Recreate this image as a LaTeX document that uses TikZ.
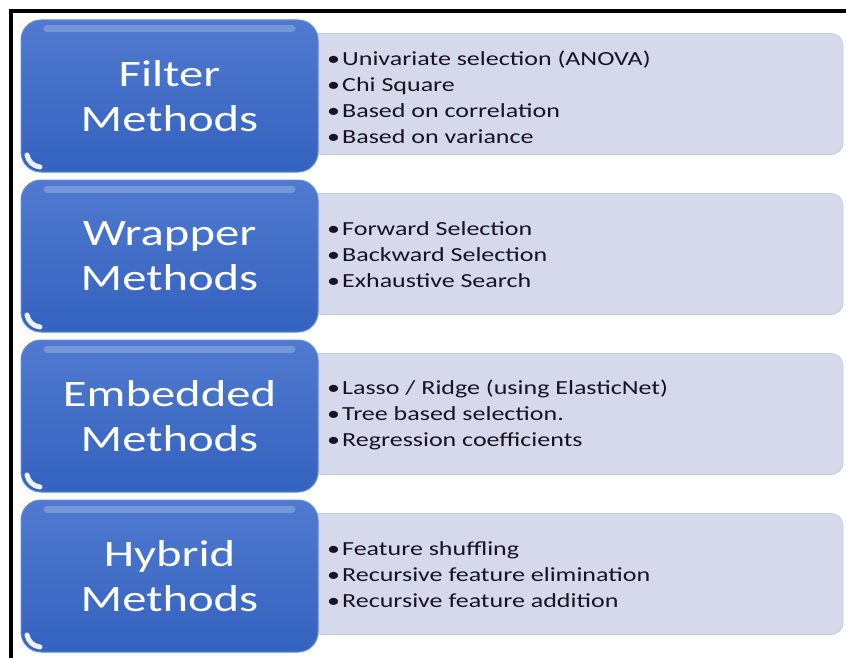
\documentclass[tikz,border=0pt]{standalone}
\usepackage{fontspec}
\setmainfont{Carlito}
\newfontfamily\wideface[FakeStretch=1.3]{Carlito}

\definecolor{bluetop}{RGB}{80,122,207}
\definecolor{bluebot}{RGB}{52,98,192}
\definecolor{blueedge}{RGB}{96,138,215}
\definecolor{listfill}{RGB}{213,217,235}
\definecolor{listedge}{RGB}{196,202,228}
\definecolor{listtext}{RGB}{24,18,34}

\newcommand{\itm}{\makebox[15pt][l]{\textbullet}}

\tikzset{
  method/.style={rounded corners=20pt, minimum width=297pt, minimum height=152pt,
    top color=bluetop, bottom color=bluebot, draw=blueedge, line width=1pt,
    text=white, align=center, font=\wideface\fontsize{37.4}{45}\selectfont,
    path picture={
      \draw[white, opacity=.22, line width=7pt, line cap=round]
        ([xshift=26pt,yshift=-9pt]path picture bounding box.north west) --
        ([xshift=-26pt,yshift=-9pt]path picture bounding box.north east);
      \draw[white, opacity=.9, line width=5pt, line cap=round]
        ([xshift=6pt,yshift=17pt]path picture bounding box.south west) to[bend right=35]
        ([xshift=19pt,yshift=5pt]path picture bounding box.south west);
    }},
  listbox/.style={rounded corners=12pt, minimum width=543pt, minimum height=121pt,
    fill=listfill, draw=listedge, line width=.8pt},
  listtext/.style={anchor=west, inner sep=0pt, align=left, text=listtext,
    font=\wideface\fontsize{20}{26}\selectfont}
}

\begin{document}
\begin{tikzpicture}[x=1pt, y=-1pt]
  \useasboundingbox (0,0) rectangle (846,658);
  \draw[line width=4pt] (846,11) -- (11,11) -- (11,658);

  % grey boxes with the lists
  \node[listbox] (filterbox) at (571.5,94) {};
  \node[listbox] (wrapperbox) at (571.5,254) {};
  \node[listbox] (embeddedbox) at (571.5,414) {};
  \node[listbox] (hybridbox) at (571.5,574) {};

  % blue boxes
  \node[method] (filter) at (169.5,96) {Filter\\Methods};
  \node[method] (wrapper) at (169.5,256) {Wrapper\\Methods};
  \node[method] (embedded) at (169.5,416) {Embedded\\Methods};
  \node[method] (hybrid) at (169.5,576) {Hybrid\\Methods};

  \node[listtext] (filterlist) at (327,97) {\itm Univariate selection (ANOVA)\\
    \itm Chi Square\\ \itm Based on correlation\\ \itm Based on variance};
  \node[listtext] (wrapperlist) at (327,255) {\itm Forward Selection\\
    \itm Backward Selection\\ \itm Exhaustive Search};
  \node[listtext] (embeddedlist) at (327,415) {\itm Lasso / Ridge (using ElasticNet)\\
    \itm Tree based selection.\\ \itm Regression coefficients};
  \node[listtext] (hybridlist) at (327,575) {\itm Feature shuffling\\
    \itm Recursive feature elimination\\ \itm Recursive feature addition};
\end{tikzpicture}
\end{document}
